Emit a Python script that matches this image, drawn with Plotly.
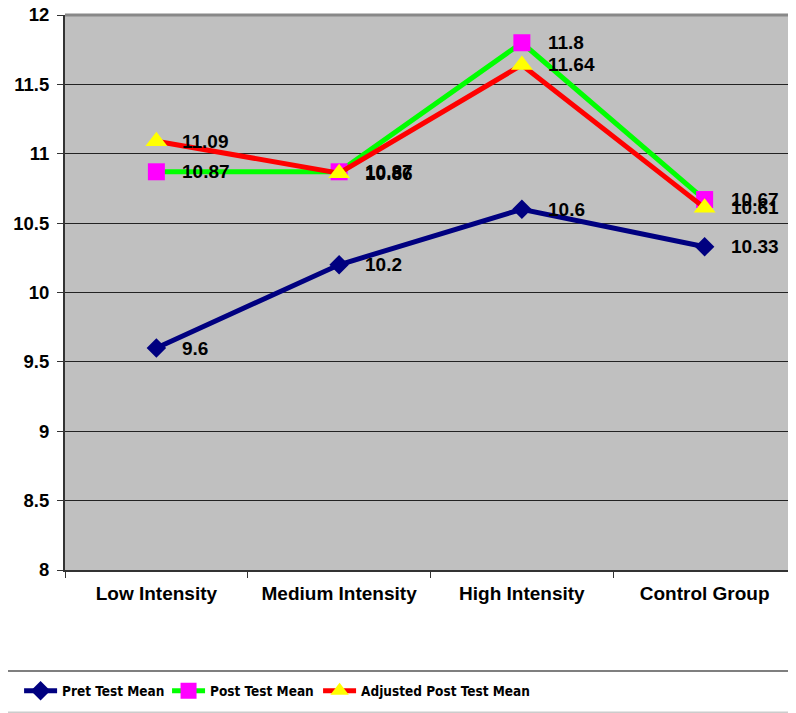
import plotly.graph_objects as go

categories = ["Low Intensity", "Medium Intensity", "High Intensity", "Control Group"]
pre_test = [9.6, 10.2, 10.6, 10.33]
post_test = [10.87, 10.87, 11.8, 10.67]
adjusted_post = [11.09, 10.86, 11.64, 10.61]
series_names = ["Pret Test Mean", "Post Test Mean", "Adjusted Post Test Mean"]
y_ticks = [8, 8.5, 9, 9.5, 10, 10.5, 11, 11.5, 12]

FONT = "Liberation Sans, Arial, sans-serif"
NARROW = "DejaVu Sans Condensed, Liberation Sans Narrow, Arial Narrow, sans-serif"

fig = go.Figure()
styles = [
    dict(line=dict(color="#000080", width=5), marker=dict(symbol="diamond", size=15, color="#000080")),
    dict(line=dict(color="#00FF00", width=5), marker=dict(symbol="square", size=17, color="#FF00FF")),
    dict(line=dict(color="#FF0000", width=5), marker=dict(symbol="triangle-up", size=19, color="#FFFF00")),
]
legend_ids = ["legend", "legend2", "legend3"]
legend_x = [-0.0628, 0.1396, 0.3462]
all_series = [pre_test, post_test, adjusted_post]
for name, vals, st, lid in zip(series_names, all_series, styles, legend_ids):
    fig.add_trace(go.Scatter(x=categories, y=vals, name=name, mode="lines+markers",
                             line=st["line"], marker=st["marker"], legend=lid))

annotations = []
for vals in all_series:
    for c, v in zip(categories, vals):
        annotations.append(dict(x=c, y=v, xref="x", yref="y", text=f"{v:g}", showarrow=False,
                                xanchor="left", yanchor="middle", xshift=24,
                                font=dict(family=FONT, size=19, color="black", weight="bold")))

legend_layout = {}
for lid, lx in zip(legend_ids, legend_x):
    legend_layout[lid] = dict(orientation="h", x=lx, xanchor="left", y=-0.218, yanchor="middle",
                              font=dict(family=NARROW, size=13.5, color="black", weight="bold"),
                              bgcolor="rgba(0,0,0,0)", itemwidth=33)

fig.update_layout(
    width=788, height=705,
    margin=dict(l=57, r=0, t=7, b=143, autoexpand=False),
    paper_bgcolor="white", plot_bgcolor="#C0C0C0",
    annotations=annotations,
    showlegend=True,
    shapes=[
        dict(type="line", xref="paper", yref="paper", x0=-0.2, x1=1.2, y0=-0.182, y1=-0.182,
             line=dict(color="#555555", width=1.5)),
        dict(type="line", xref="paper", yref="paper", x0=-0.2, x1=1.2, y0=-0.2565, y1=-0.2565,
             line=dict(color="#CCCCCC", width=1.5)),
        dict(type="line", xref="paper", yref="paper", x0=0, x1=1, y0=1, y1=1,
             line=dict(color="#888888", width=3)),
    ],
    **legend_layout,
)
fig.update_xaxes(
    type="category", range=[-0.5, 3.5], showgrid=False, automargin=False,
    showline=True, linecolor="#333333", linewidth=2,
    ticks="outside", tickson="boundaries", ticklen=6, tickcolor="#333333",
    ticklabelstandoff=5,
    tickfont=dict(family=FONT, size=19, color="black", weight="bold"),
)
fig.update_yaxes(
    range=[8, 12], tickvals=y_ticks, ticktext=[f"{t:g}" for t in y_ticks],
    showgrid=True, gridcolor="#222222", gridwidth=1, automargin=False,
    showline=True, linecolor="#333333", linewidth=2,
    ticks="outside", ticklen=6, tickcolor="#333333",
    ticklabeloverflow="allow", ticklabelstandoff=4,
    tickfont=dict(family=FONT, size=18.5, color="black", weight="bold"),
    zeroline=False,
)
fig.write_html("out.html")
